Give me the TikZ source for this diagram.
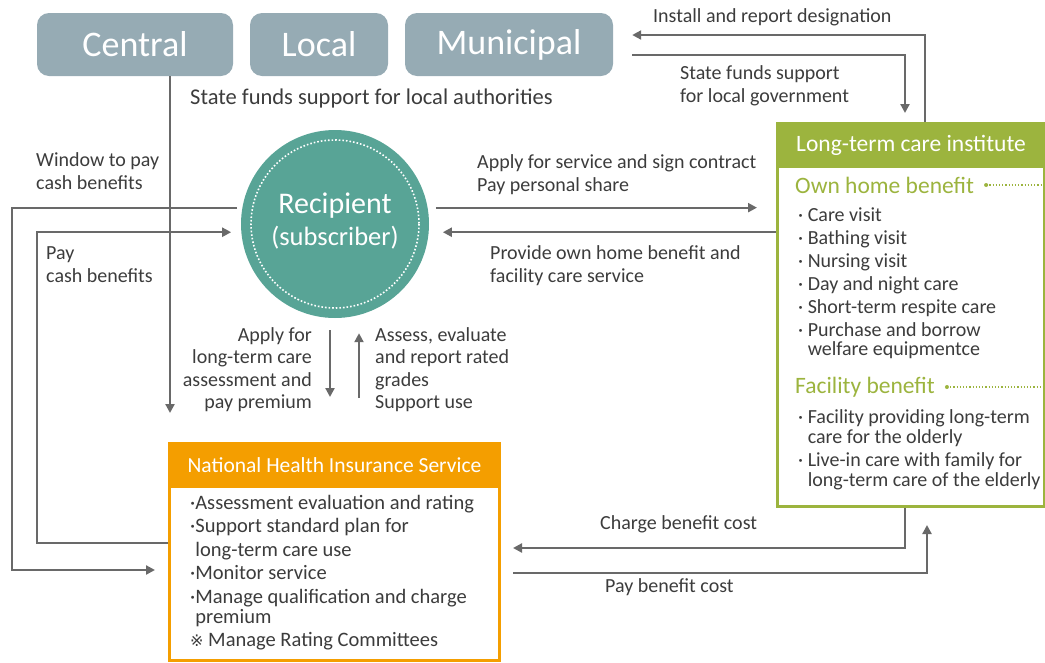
\documentclass[tikz,border=0pt]{standalone}
\usepackage{fontspec}
\setmainfont{Carlito}
\newfontfamily\symfont{DejaVu Sans}
\usetikzlibrary{arrows.meta,calc}

\definecolor{govgray}{RGB}{150,171,180}
\definecolor{recteal}{RGB}{88,164,150}
\definecolor{ltcgreen}{RGB}{156,180,62}
\definecolor{nhisorange}{RGB}{244,158,0}
\definecolor{linegray}{RGB}{105,105,105}
\definecolor{txtgray}{RGB}{60,60,60}

\tikzset{
  govbox/.style={fill=govgray, rounded corners=12pt, minimum height=63pt, inner sep=0pt,
    text=white, font=\fontsize{36}{36}\selectfont},
  flow/.style={draw=linegray, line width=2.2pt, -{Triangle[length=9pt,width=9pt]}},
  lbl/.style={text=txtgray, font=\fontsize{20}{23}\selectfont, inner sep=0pt, align=left},
  heading/.style={text=white, inner sep=0pt},
  subhead/.style={text=ltcgreen, inner sep=0pt, anchor=west, font=\fontsize{23.5}{23.5}\selectfont},
}

\begin{document}
\begin{tikzpicture}[x=1pt,y=1pt,yscale=-1,xscale=1]
  \useasboundingbox (0,0) rectangle (1045,662);

  % government level boxes
  \node[govbox, minimum width=196pt] (central) at (135,44.5) {Central};
  \node[govbox, minimum width=138pt] (local) at (319,44.5) {Local};
  \node[govbox, minimum width=208pt] (municipal) at (509,44.5) {Municipal};

  % recipient circle
  \node[circle, fill=recteal, minimum size=188pt, inner sep=0pt] (recipient) at (335,224) {};
  \draw[white, line width=1.6pt, dotted] (recipient.center) circle[radius=84pt];
  \node[text=white, align=center, inner sep=0pt, font=\fontsize{30}{32}\selectfont] (rectext) at (335,221)
    {Recipient\\{\fontsize{26.5}{26.5}\selectfont(subscriber)}};

  % long-term care institute
  \node[draw=ltcgreen, line width=3pt, fill=white, minimum width=267pt, minimum height=383pt,
    anchor=north west, inner sep=0pt] (ltc) at (776,122) {};
  \node[fill=ltcgreen, minimum width=267pt, minimum height=46pt, anchor=north, heading,
    font=\fontsize{23.5}{24}\selectfont] (ltchead) at (ltc.north) {Long-term care institute};
  \node[subhead] (ownhome) at (795,185) {Own home benefit};
  \fill[ltcgreen] ($(ownhome.east)+(12,0)$) circle[radius=2pt];
  \draw[ltcgreen, dotted, line width=1.2pt] ($(ownhome.east)+(12,0)$) -- (ltc.east |- ownhome.east);
  \node[lbl, anchor=north west] (homelist) at (798,208)
    {· Care visit\\· Bathing visit\\· Nursing visit\\· Day and night care\\· Short-term respite care\\
     · Purchase and borrow\\[-4pt]\phantom{· }welfare equipmentce};
  \node[subhead] (facility) at (795,387) {Facility benefit};
  \fill[ltcgreen] ($(facility.east)+(12,0)$) circle[radius=2pt];
  \draw[ltcgreen, dotted, line width=1.2pt] ($(facility.east)+(12,0)$) -- (ltc.east |- facility.east);
  \node[lbl, anchor=north west] (faclist) at (798,409)
    {· Facility providing long-term\\[-3pt]\phantom{· }care for the olderly\\
     · Live-in care with family for\\[-3pt]\phantom{· }long-term care of the elderly};

  % national health insurance service
  \node[draw=nhisorange, line width=3pt, fill=white, minimum width=330pt, minimum height=217pt,
    anchor=north west, inner sep=0pt] (nhis) at (168,442) {};
  \node[fill=nhisorange, minimum width=330pt, minimum height=46pt, anchor=north, heading,
    font=\fontsize{21.5}{22}\selectfont] (nhishead) at (nhis.north) {National Health Insurance Service};
  \node[lbl, anchor=north west, font=\fontsize{20.5}{23.4}\selectfont] (nhislist) at (190,495)
    {·Assessment evaluation and rating\\·Support standard plan for\\\phantom{·}long-term care use\\
     ·Monitor service\\·Manage qualification and charge\\[-3pt]\phantom{·}premium\\
     {\symfont\fontsize{16}{16}\selectfont ※} Manage Rating Committees};

  % connector end points
  \coordinate (cdn) at (170,413);
  \coordinate (upr) at (925,35);
  \coordinate (dnr) at (905,55);
  \coordinate (winl) at (12,570);
  \coordinate (payl) at (37,543);
  \coordinate (apd) at (330,397);
  \coordinate (asu) at (359,398);
  \coordinate (chg) at (905,548);
  \coordinate (pay) at (927,573);

  %Straight Lines
  \draw[flow, shorten >=29pt] (central.south -| cdn) -- (nhis.north -| cdn);
  \draw[flow, shorten >=19pt] (ltc.north -| upr) |- (municipal.east |- upr);
  \draw[flow, shorten <=19pt, shorten >=9pt] (municipal.east |- dnr) -| (ltc.north -| dnr);
  \draw[flow, shorten <=5pt, shorten >=13pt] (recipient.170) -| (winl) -- (nhis.west |- winl);
  \draw[flow, shorten >=10pt] (nhis.west |- payl) -- (payl) |- (recipient.185);
  \draw[flow, shorten <=8pt, shorten >=19pt] (recipient.10) -- (ltc.west |- recipient.10);
  \draw[flow, shorten >=14pt] (ltc.west |- recipient.355) -- (recipient.355);
  \draw[flow, shorten <=12pt, shorten >=45pt] (recipient.south -| apd) -- (nhis.north -| apd);
  \draw[flow, shorten <=44pt, shorten >=15pt] (nhis.north -| asu) -- (recipient.south -| asu);
  \draw[flow, shorten >=12pt] (ltc.south -| chg) |- (nhis.east |- chg);
  \draw[flow, shorten <=12pt, shorten >=17pt] (nhis.east |- pay) -| (ltc.south -| pay);

  % Text Node
  \node[lbl, anchor=west, font=\fontsize{22.5}{23}\selectfont] (fundslocal) at (190,98) {State funds support for local authorities};
  % Text Node
  \node[lbl, anchor=west] (install) at (653,17) {Install and report designation};
  % Text Node
  \node[lbl, anchor=north west] (fundsgov) at (680,65) {State funds support\\for local government};
  % Text Node
  \node[lbl, anchor=north west] (window) at (36,152) {Window to pay\\cash benefits};
  % Text Node
  \node[lbl, anchor=north west] (paycash) at (46,246) {Pay\\cash benefits};
  % Text Node
  \node[lbl, anchor=north west] (applysvc) at (477,154) {Apply for service and sign contract\\Pay personal share};
  % Text Node
  \node[lbl, anchor=north west] (provide) at (490,245) {Provide own home benefit and\\facility care service};
  % Text Node
  \node[lbl, anchor=north east, align=right, font=\fontsize{20}{22.5}\selectfont] (applyltc) at (312,327)
    {Apply for\\long-term care\\assessment and\\pay premium};
  % Text Node
  \node[lbl, anchor=north west, font=\fontsize{20}{22.5}\selectfont] (assess) at (375,327)
    {Assess, evaluate\\and report rated\\grades\\Support use};
  % Text Node
  \node[lbl, anchor=west] (charge) at (600,524) {Charge benefit cost};
  % Text Node
  \node[lbl, anchor=west] (paycost) at (605,587) {Pay benefit cost};
\end{tikzpicture}
\end{document}
